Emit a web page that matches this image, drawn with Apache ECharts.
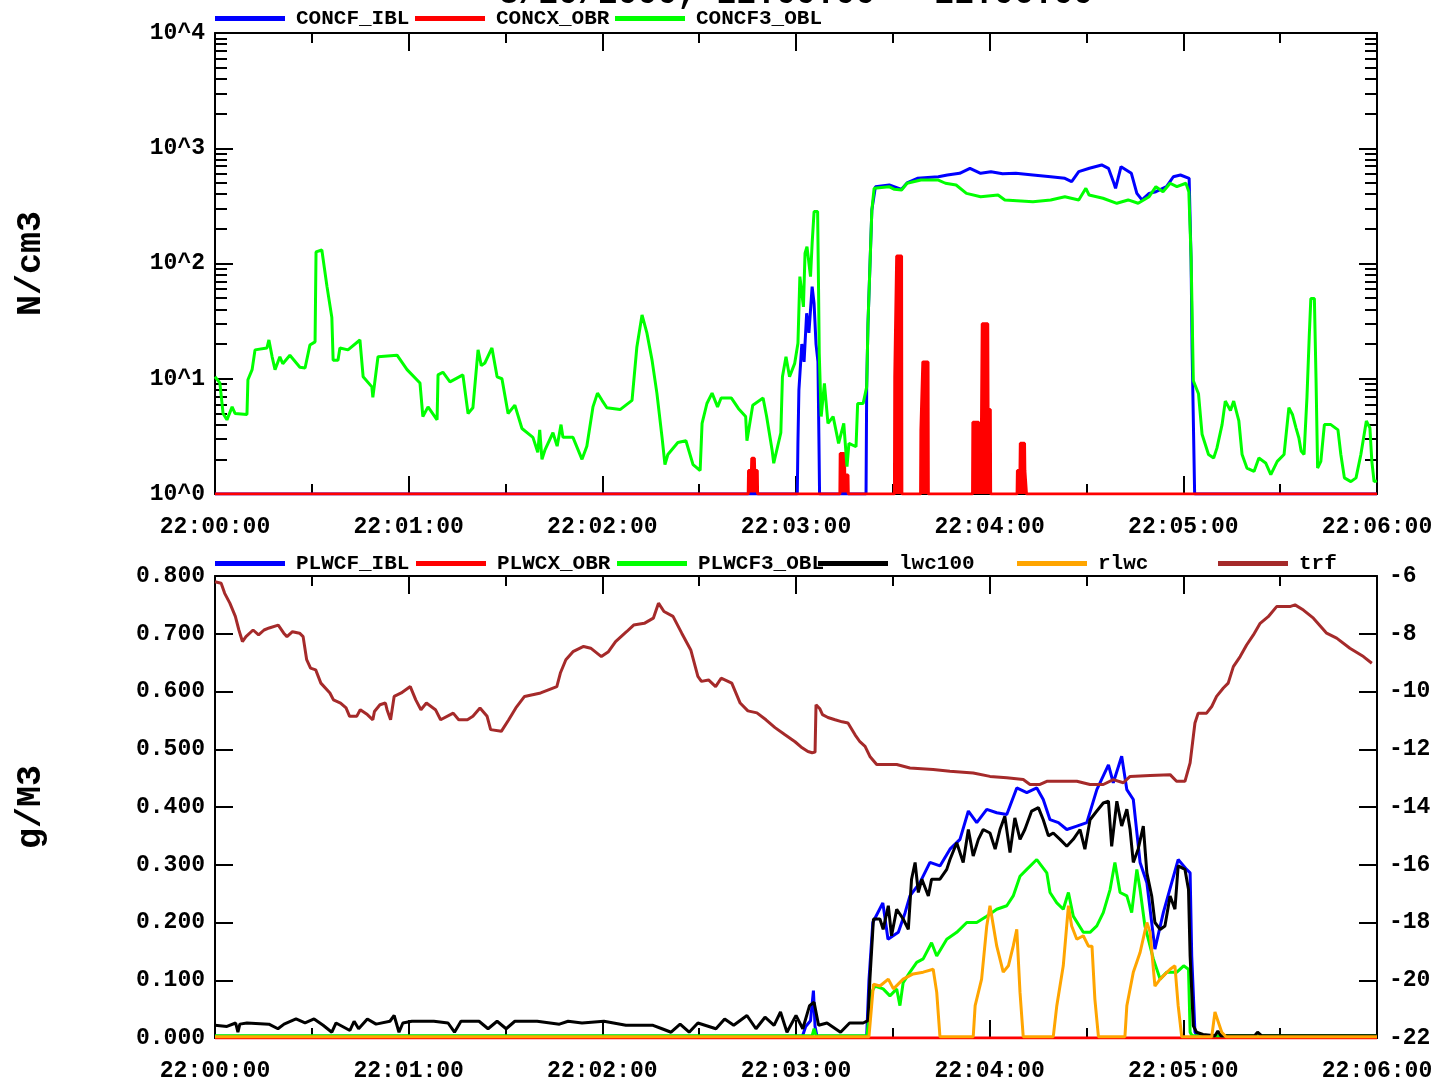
<!DOCTYPE html>
<html>
<head>
<meta charset="utf-8">
<script src="https://cdn.jsdelivr.net/npm/echarts@6/dist/echarts.min.js"></script>
<style>
html,body{margin:0;padding:0;background:#fff;}
#chart{width:1436px;height:1083px;}
</style>
</head>
<body>
<div id="chart"></div>
<script>
// ---------- DATA (time in seconds after 22:00:00) ----------
const titleText = '3/20/2000, 22:00:00 - 22:06:00';
const timeTicks = ['22:00:00','22:01:00','22:02:00','22:03:00','22:04:00','22:05:00','22:06:00'];
const topLegend = ['CONCF_IBL','CONCX_OBR','CONCF3_OBL'];
const bottomLegend = ['PLWCF_IBL','PLWCX_OBR','PLWCF3_OBL','lwc100','rlwc','trf'];

// Top panel: N/cm3 (log scale)
const concf_ibl = [[0,1],[180.4,1],[180.6,2.8],[180.9,8],[181.8,20],[182.5,14],[183.3,37],[184.0,25],[185.0,63],[185.6,45],[186.2,20],[186.8,14],[187.1,3],[187.3,1],
  [201.7,1],[201.9,8.5],[202.3,30],[202.9,94],[203.5,291],[204.6,464],[208.9,480],[212.7,440],[214.4,500],[217.6,548],[224.1,566],[226.9,586],[230.7,606],[233.9,670],
  [237.2,606],[240.4,626],[244.0,600],[248.1,606],[253.4,586],[258.9,566],[263.3,548],[265.4,513],[267.6,626],[270.9,670],[274.7,716],[276.8,670],[278.5,497],
  [279.0,449],[280.7,692],[283.9,606],[285.6,406],[287.2,356],[289.4,406],[291.5,420],[294.8,464],[296.9,566],[299.1,586],[301.8,548],[302.4,107],[302.7,19],
  [302.9,9.1],[303.5,1],[360,1]];
const concx_obr = [[0,1],[165.2,1],[165.3,1.6],[166.2,1.6],[166.3,2.04],[167.1,2.04],[167.2,1.6],[168.0,1.6],[168.1,1],
  [193.6,1],[193.7,2.25],[195.0,2.25],[195.1,1.46],[196.1,1.46],[196.2,1],
  [210.5,1],[210.6,10.4],[211.1,10.4],[211.2,116],[212.7,116],[212.8,1],
  [218.6,1],[218.7,3.6],[219.2,3.6],[219.3,14],[220.9,14],[221.0,1],
  [234.7,1],[234.8,4.2],[236.6,4.2],[236.7,1.97],[237.2,1.97],[237.3,1],
  [237.6,1],[237.7,30],[239.4,30],[239.5,5.4],[240.2,5.4],[240.3,1],
  [248.5,1],[248.6,1.6],[249.4,1.6],[249.5,2.75],[250.8,2.75],[250.9,1.6],[251.3,1.6],[251.4,1],[360,1]];
const concf3_obl = [[0,10.4],[1.5,9.2],[2.5,5.0],[3.7,4.4],[5.3,5.7],[6.2,5.0],[9.9,4.9],[10.2,9.8],[11.5,12],[12.4,17.8],[16.1,18.5],[16.7,21.7],
  [17.7,15.5],[18.6,12],[20.1,15.5],[21.0,13.5],[23.2,16],[26.3,12.6],[27.9,12.4],[29.4,19.6],[31.0,20.9],[31.3,126],[33.1,131],[34.7,63],[36.2,34],[36.6,14.5],
  [38.1,14.5],[38.7,18.5],[41.2,17.8],[44.9,21.7],[45.9,10.4],[48.6,8.5],[48.9,6.9],[50.5,15.5],[56.4,16],[59.5,12],[63.5,9.2],[64.4,4.7],[66.0,5.7],
  [68.8,4.4],[69.1,10.8],[70.6,11.4],[72.8,9.4],[76.8,10.8],[78.4,5.0],[79.9,5.6],[81.5,17.8],[82.5,13.0],[83.6,13.7],[85.8,18.5],[87.4,10.4],[88.9,10],[90.8,5.0],
  [92.9,5.9],[95.1,3.7],[98.5,3.1],[100.0,2.3],[100.6,3.6],[101.3,2.0],[102.2,2.4],[104.7,3.4],[106.0,2.6],[107.2,4.0],[107.8,3.1],[110.9,3.1],[113.7,2.0],[115.2,2.6],[117.1,5.7],[118.5,7.5],[119.9,6.5],[121.4,5.6],
  [125.5,5.4],[129.2,6.5],[130.7,18.9],[132.3,35.8],[133.8,25],[135.4,14.5],[136.9,7.5],[138.5,3.1],[139.4,1.8],[140.3,2.2],[143.4,2.8],[145.9,2.9],
  [148.1,1.8],[150.3,1.6],[150.9,4.1],[152.4,6.1],[154.0,7.5],[155.7,5.7],[156.8,6.8],[160.0,6.8],[162.2,5.5],[164.4,4.7],[164.8,2.9],[166.6,5.9],
  [169.8,6.8],[170.9,4.7],[172.6,2.4],[173.1,1.85],[175.3,3.4],[175.8,10.4],[176.9,15.5],[178.0,10.4],[179.6,13.6],[180.6,20.3],[181.2,77],[182.3,42],
  [182.8,123],[183.4,140],[184.5,77],[185.0,150],[185.6,282],[186.7,282],[187.0,55],[187.2,16.6],[187.8,4.7],[188.8,9.1],[189.9,4.1],[191.5,4.7],
  [193.2,2.75],[194.8,4.1],[195.8,1.73],[196.4,2.75],[198.6,2.57],[199.1,6.1],[200.8,6.1],[201.9,8.5],[202.3,30],[202.9,94],[203.5,291],[204.2,449],
  [208.8,464],[210.5,440],[212.7,434],[214.4,497],[218.7,530],[224.1,530],[226.3,497],[229.6,480],[232.8,406],[237.2,380],[242.6,393],[244.7,356],[253.4,344],
  [258.9,356],[263.3,380],[267.6,356],[269.8,449],[270.8,393],[275.1,368],[279.4,333],[282.9,356],[286.0,333],[289.4,380],[291.5,464],[293.7,420],
  [295.9,497],[298.0,464],[300.8,497],[301.7,420],[302.4,115],[303.1,9.6],[304.7,7.4],[305.8,3.3],[307.8,2.2],[309.4,2.05],[310.4,2.5],[312.0,4.0],
  [313.0,6.4],[314.6,5.3],[315.6,6.4],[317.2,4.3],[318.2,2.2],[319.7,1.68],[321.9,1.57],[323.4,2.05],[325.5,1.86],[327.1,1.47],[329.1,1.92],[331.2,2.2],
  [332.7,5.6],[333.8,4.9],[334.9,3.75],[335.8,3.06],[336.5,2.36],[337.4,2.2],[338.3,6.9],[339.0,23],[339.5,49.6],[340.6,49.6],[341.1,10.3],[341.6,1.68],
  [342.6,1.92],[343.7,4.0],[345.7,4.0],[347.9,3.6],[348.8,2.2],[349.9,1.38],[351.9,1.28],[353.5,1.38],[355.0,2.2],[356.7,4.3],[357.8,3.75],[358.4,1.92],
  [359.1,1.28],[360,1.3]];

// Bottom panel: g/M3 (left) and trf (right)
const plwcf_ibl = [[0,0.003],[182.0,0.003],[183.0,0.02],[184.5,0.03],[185.4,0.082],[185.9,0.02],[186.5,0.003],[201.9,0.003],[202.6,0.1],[203.8,0.2],
  [206.9,0.234],[208.5,0.171],[211.7,0.183],[213.8,0.217],[215.3,0.246],[218.4,0.269],[221.5,0.304],[224.6,0.298],[227.7,0.327],[230.8,0.344],[233.4,0.393],
  [236.0,0.373],[239.1,0.396],[242.2,0.39],[245.3,0.387],[248.4,0.433],[251.5,0.425],[254.6,0.433],[256.6,0.413],[258.7,0.378],[261.3,0.373],[263.9,0.361],
  [267.0,0.367],[270.1,0.373],[273.2,0.43],[276.8,0.473],[278.3,0.442],[280.9,0.488],[282.5,0.43],[284.5,0.413],[286.6,0.304],[288.7,0.269],[291.2,0.154],
  [293.8,0.217],[298.4,0.309],[301.0,0.292],[302.1,0.286],[302.6,0.142],[303.6,0.01],[304.5,0.003],[360,0.003]];
const plwcx_obr = [[0,0],[360,0]];
const plwcf3_obl = [[0,0.004],[185.0,0.004],[185.6,0.016],[186.2,0.004],[202.0,0.004],[203.4,0.079],[204.5,0.09],[207.0,0.085],[209.1,0.073],[211.2,0.085],
  [212.2,0.056],[213.2,0.096],[215.3,0.114],[217.4,0.131],[219.4,0.137],[222.0,0.165],[223.6,0.142],[226.7,0.171],[229.8,0.183],[232.9,0.2],[236.0,0.2],
  [239.1,0.211],[242.2,0.223],[245.3,0.229],[247.3,0.246],[249.4,0.28],[251.5,0.292],[254.6,0.309],[257.7,0.286],[258.7,0.252],[260.8,0.234],[262.8,0.223],
  [264.4,0.252],[265.9,0.211],[269.0,0.183],[271.1,0.183],[273.2,0.194],[275.2,0.217],[277.3,0.257],[278.8,0.304],[280.4,0.252],[282.5,0.246],[284.0,0.217],
  [285.6,0.292],[286.6,0.257],[288.1,0.194],[290.7,0.137],[292.8,0.102],[294.9,0.114],[298.0,0.114],[300.1,0.125],[301.6,0.119],[302.1,0.01],[302.7,0.004],
  [360,0.004]];
const lwc100 = [[0,0.022],[3.7,0.02],[6.4,0.026],[7.1,0.01],[7.7,0.024],[9.9,0.026],[16.7,0.024],[19.5,0.016],[21.4,0.024],[25.1,0.033],[27.9,0.026],
  [30.7,0.033],[33.5,0.022],[36.2,0.01],[37.5,0.026],[41.8,0.013],[43.1,0.029],[44.5,0.016],[47.2,0.033],[49.9,0.024],[54.2,0.029],[55.5,0.039],[57.0,0.01],
  [58.2,0.026],[61.0,0.029],[67.8,0.029],[72.2,0.026],[74.2,0.01],[76.2,0.029],[81.8,0.029],[84.6,0.016],[87.4,0.029],[90.2,0.016],[92.9,0.029],[99.8,0.029],
  [106.7,0.024],[109.4,0.029],[113.7,0.026],[120.5,0.029],[127.3,0.022],[135.7,0.022],[138.5,0.016],[141.3,0.01],[144.1,0.024],[146.9,0.01],[149.6,0.026],
  [155.2,0.016],[157.9,0.033],[160.7,0.022],[164.8,0.039],[167.6,0.016],[170.4,0.036],[173.2,0.022],[175.2,0.045],[177.2,0.01],[180.0,0.039],[182.1,0.016],
  [184.2,0.056],[185.6,0.062],[187.0,0.022],[189.6,0.026],[193.8,0.01],[196.6,0.026],[200.8,0.026],[202.3,0.03],[202.9,0.102],[204.0,0.206],[206.0,0.206],
  [207.0,0.188],[208.6,0.229],[209.6,0.177],[211.2,0.223],[213.2,0.206],[214.8,0.188],[215.8,0.275],[216.9,0.304],[217.9,0.252],[219.0,0.275],[221.0,0.246],
  [222.0,0.275],[224.6,0.275],[226.7,0.292],[227.7,0.309],[229.8,0.338],[231.8,0.304],[233.4,0.361],[234.9,0.315],[236.5,0.344],[238.0,0.361],[240.1,0.355],
  [241.7,0.327],[243.2,0.361],[244.7,0.384],[246.3,0.321],[247.8,0.381],[249.4,0.344],[250.9,0.361],[253.0,0.393],[255.1,0.399],[256.6,0.378],[258.2,0.35],
  [259.7,0.355],[261.8,0.344],[263.9,0.332],[265.9,0.344],[268.0,0.361],[269.5,0.327],[271.1,0.378],[273.2,0.393],[275.2,0.407],[276.8,0.41],[277.8,0.332],
  [279.4,0.41],[280.9,0.367],[282.5,0.396],[283.5,0.361],[284.5,0.304],[286.0,0.327],[287.6,0.367],[288.7,0.286],[290.2,0.246],[291.2,0.2],[292.8,0.188],
  [294.3,0.194],[295.9,0.246],[297.4,0.223],[298.4,0.298],[300.5,0.292],[301.6,0.257],[302.1,0.142],[303.1,0.021],[304.1,0.01],[306.1,0.006],[309.8,0.004],
  [310.7,0.012],[311.6,0.004],[322.1,0.004],[323.0,0.01],[324.2,0.004],[360,0.004]];
const rlwc = [[0,0.002],[202.6,0.002],[202.9,0.004],[204.0,0.093],[206.0,0.09],[208.6,0.102],[210.2,0.085],[213.2,0.102],[216.3,0.111],[219.4,0.114],
  [222.5,0.119],[223.6,0.079],[224.6,0.002],[234.9,0.002],[235.5,0.056],[237.5,0.102],[239.1,0.194],[240.1,0.229],[242.2,0.159],[244.2,0.114],[245.8,0.125],
  [247.3,0.159],[248.4,0.188],[249.4,0.079],[250.4,0.002],[259.7,0.002],[260.8,0.056],[262.8,0.125],[264.4,0.229],[265.4,0.194],[267.0,0.171],[269.0,0.177],
  [270.6,0.159],[271.7,0.159],[272.6,0.067],[273.7,0.002],[281.9,0.002],[282.5,0.056],[284.5,0.114],[286.6,0.148],[288.7,0.2],[289.7,0.183],[291.2,0.09],
  [292.8,0.102],[295.9,0.119],[297.4,0.125],[298.4,0.056],[299.5,0.002],[308.8,0.002],[309.8,0.045],[310.7,0.03],[311.9,0.01],[313.2,0.002],[360,0.002]];
const trf = [[0,-6.2],[1.9,-6.25],[3.0,-6.6],[4.6,-6.94],[6.3,-7.4],[7.4,-7.87],[8.5,-8.27],[9.6,-8.1],[11.8,-7.87],[13.5,-8.04],[15.2,-7.87],[16.8,-7.8],
  [19.6,-7.7],[21.3,-7.98],[22.3,-8.1],[24.0,-7.93],[26.2,-7.98],[27.3,-8.1],[28.4,-8.9],[29.6,-9.19],[31.2,-9.25],[32.8,-9.71],[35.6,-10.05],[36.7,-10.29],
  [38.9,-10.4],[40.6,-10.57],[41.7,-10.86],[43.9,-10.86],[45.0,-10.63],[47.2,-10.8],[48.9,-10.98],[49.4,-10.69],[51.1,-10.46],[52.8,-10.4],[53.3,-10.63],
  [54.4,-10.98],[55.5,-10.17],[57.7,-10.05],[60.5,-9.83],[62.2,-10.29],[63.8,-10.63],[65.5,-10.4],[68.3,-10.63],[69.9,-10.98],[73.8,-10.75],[75.5,-10.98],
  [78.2,-10.98],[79.9,-10.86],[82.1,-10.57],[84.3,-10.86],[85.4,-11.32],[88.7,-11.38],[91.0,-10.98],[93.2,-10.57],[95.9,-10.17],[100.9,-10.05],[105.9,-9.83],
  [107.0,-9.36],[108.7,-8.9],[110.9,-8.62],[114.2,-8.44],[116.4,-8.5],[119.7,-8.79],[121.9,-8.62],[124.1,-8.27],[127.5,-7.93],[129.7,-7.7],[133.0,-7.64],
  [135.8,-7.46],[137.4,-6.94],[139.1,-7.23],[141.9,-7.4],[144.6,-7.98],[147.4,-8.56],[149.6,-9.48],[150.7,-9.65],[152.9,-9.6],[155.1,-9.83],[156.8,-9.54],
  [160.1,-9.71],[162.7,-10.4],[165.1,-10.67],[167.9,-10.74],[170.7,-10.98],[173.5,-11.25],[176.6,-11.5],[179.7,-11.74],[181.9,-11.95],[183.7,-12.08],
  [185.0,-12.12],[185.9,-12.1],[186.2,-10.46],[187.4,-10.6],[188.2,-10.8],[189.9,-10.9],[192.1,-10.98],[194.3,-11.05],[196.1,-11.09],[198.3,-11.5],
  [199.8,-11.74],[201.4,-11.9],[202.9,-12.25],[205.0,-12.53],[211.2,-12.53],[215.3,-12.65],[222.5,-12.7],[227.7,-12.76],[234.9,-12.82],[240.1,-12.94],
  [245.3,-12.99],[250.4,-13.05],[252.5,-13.22],[255.6,-13.22],[257.7,-13.11],[267.0,-13.11],[271.1,-13.22],[275.2,-13.22],[278.3,-13.05],[281.4,-13.16],
  [283.5,-12.94],[289.7,-12.91],[295.9,-12.88],[297.9,-13.11],[300.5,-13.11],[302.1,-12.47],[303.1,-11.55],[303.6,-11.09],[304.6,-10.75],[307.2,-10.75],
  [308.8,-10.52],[310.3,-10.17],[312.4,-9.88],[313.9,-9.71],[315.5,-9.14],[317.6,-8.79],[319.6,-8.39],[321.7,-8.04],[323.8,-7.64],[326.3,-7.41],[328.9,-7.06],
  [333.0,-7.06],[334.6,-7.0],[337.2,-7.18],[340.3,-7.46],[344.4,-7.98],[347.5,-8.15],[351.6,-8.5],[355.8,-8.79],[358.4,-9.02]];

// ---------- CHART ----------
const FONT = '"Liberation Mono", "DejaVu Sans Mono", monospace';
const lab = {fontFamily: FONT, fontWeight: 'bold', fontSize: 23, color: '#000'};
const blk = {color: '#000', width: 2};
const nameStyle = {fontFamily: FONT, fontWeight: 'bold', fontSize: 35, color: '#000'};

function xAxis(grid, pos, labels) {
  return {
    type: 'value', gridIndex: grid, position: pos, min: 0, max: 360, interval: 60,
    axisLine: {show: true, onZero: false, lineStyle: blk},
    axisTick: {show: true, inside: true, length: 18, lineStyle: blk},
    minorTick: {show: true, splitNumber: 2, length: 10, lineStyle: blk},
    splitLine: {show: false}, minorSplitLine: {show: false},
    axisLabel: Object.assign({show: labels, margin: 22, formatter: v => timeTicks[Math.round(v / 60)]}, lab)
  };
}
function logAxis(pos, labels) {
  return {
    type: 'log', logBase: 10, gridIndex: 0, position: pos, min: 1, max: 10000, splitNumber: 4,
    name: labels ? 'N/cm3' : '', nameLocation: 'middle', nameGap: 166, nameRotate: 90, nameTextStyle: nameStyle,
    axisLine: {show: true, onZero: false, lineStyle: blk},
    axisTick: {show: true, inside: true, length: 18, lineStyle: blk},
    minorTick: {show: true, splitNumber: 9, length: 12, lineStyle: blk},
    splitLine: {show: false}, minorSplitLine: {show: false},
    axisLabel: Object.assign({show: labels, margin: 10, formatter: v => '10^' + Math.round(Math.log10(v))}, lab)
  };
}
function leg(name, left, top) {
  return {
    data: [name], left: left, top: top, icon: 'rect', itemWidth: 70, itemHeight: 5, padding: 0, itemGap: 0,
    selectedMode: false,
    textStyle: {fontFamily: FONT, fontWeight: 'bold', fontSize: 21, color: '#000', padding: [0, 0, 0, 6]}
  };
}
function line(name, data, color, xi, yi, fill) {
  const s = {name: name, type: 'line', data: data, xAxisIndex: xi, yAxisIndex: yi, showSymbol: false, symbol: 'none',
    lineStyle: {color: color, width: 3}, itemStyle: {color: color}, animation: false};
  if (fill) s.areaStyle = {color: color, opacity: 1};
  return s;
}

const colors = {blue: '#0000ff', red: '#ff0000', green: '#00ff00', black: '#000000', orange: '#ffa500', brown: '#a52a2a'};

const option = {
  backgroundColor: '#fff',
  animation: false,
  title: {text: titleText, left: 796, top: -22, padding: 0, textAlign: 'center',
    textStyle: {fontFamily: FONT, fontWeight: 'bold', fontSize: 33, color: '#000'}},
  legend: [
    leg(topLegend[0], 215, 8), leg(topLegend[1], 415, 8), leg(topLegend[2], 615, 8),
    leg(bottomLegend[0], 215, 553), leg(bottomLegend[1], 416, 553), leg(bottomLegend[2], 617, 553),
    leg(bottomLegend[3], 818, 553), leg(bottomLegend[4], 1017, 553), leg(bottomLegend[5], 1218, 553)
  ],
  grid: [
    {left: 215, top: 33, width: 1162, height: 461},
    {left: 215, top: 576, width: 1162, height: 463}
  ],
  xAxis: [xAxis(0, 'bottom', true), xAxis(0, 'top', false), xAxis(1, 'bottom', true), xAxis(1, 'top', false)],
  yAxis: [
    logAxis('left', true), logAxis('right', false),
    {type: 'value', gridIndex: 1, position: 'left', min: 0, max: 0.8, interval: 0.1,
      name: 'g/M3', nameLocation: 'middle', nameGap: 166, nameRotate: 90, nameTextStyle: nameStyle,
      axisLine: {show: true, onZero: false, lineStyle: blk},
      axisTick: {show: true, inside: true, length: 18, lineStyle: blk},
      splitLine: {show: false},
      axisLabel: Object.assign({margin: 10, formatter: v => v.toFixed(3)}, lab)},
    {type: 'value', gridIndex: 1, position: 'right', min: -22, max: -6, interval: 2,
      axisLine: {show: true, onZero: false, lineStyle: blk},
      axisTick: {show: true, inside: true, length: 18, lineStyle: blk},
      splitLine: {show: false},
      axisLabel: Object.assign({margin: 12}, lab)}
  ],
  series: [
    line(topLegend[0], concf_ibl, colors.blue, 0, 0),
    line(topLegend[1], concx_obr, colors.red, 0, 0, true),
    line(topLegend[2], concf3_obl, colors.green, 0, 0),
    line(bottomLegend[0], plwcf_ibl, colors.blue, 2, 2),
    line(bottomLegend[1], plwcx_obr, colors.red, 2, 2),
    line(bottomLegend[2], plwcf3_obl, colors.green, 2, 2),
    line(bottomLegend[3], lwc100, colors.black, 2, 2),
    line(bottomLegend[4], rlwc, colors.orange, 2, 2),
    line(bottomLegend[5], trf, colors.brown, 2, 3)
  ]
};

const chart = echarts.init(document.getElementById('chart'), null, {renderer: 'canvas'});
chart.setOption(option);
</script>
</body>
</html>
